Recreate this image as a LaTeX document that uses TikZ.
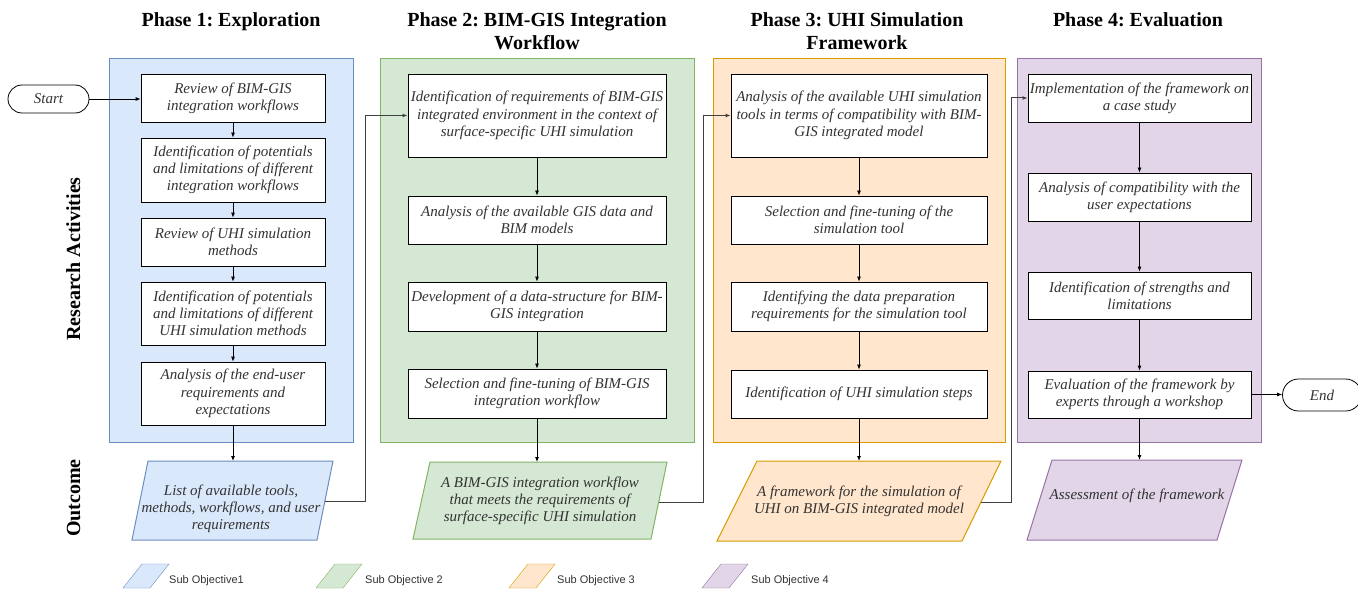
\documentclass[tikz,border=0pt]{standalone}
\usepackage{fontspec}
\setmainfont{Liberation Serif}
\setsansfont{Liberation Sans}
\usetikzlibrary{arrows.meta}
\definecolor{bfill}{HTML}{DAE8FC}\definecolor{bdraw}{HTML}{6C8EBF}
\definecolor{gfill}{HTML}{D5E8D4}\definecolor{gdraw}{HTML}{82B366}
\definecolor{ofill}{HTML}{FFE6CC}\definecolor{odraw}{HTML}{D79B00}
\definecolor{pfill}{HTML}{E1D5E7}\definecolor{pdraw}{HTML}{9673A6}
\definecolor{txt}{HTML}{333333}
\definecolor{lnk}{HTML}{404040}
\frenchspacing
\begin{document}
\begin{tikzpicture}[x=1pt,y=-1pt,
  boxtext/.style={align=center, font=\itshape\fontsize{15}{17.3}\selectfont, text=txt, inner sep=0pt},
  box/.style={boxtext, draw=black, fill=white, line width=0.8pt},
  term/.style={boxtext, draw=black, fill=white, line width=0.8pt},
  title/.style={font=\bfseries\fontsize{20}{23}\selectfont, anchor=base, inner sep=0pt},
  side/.style={font=\bfseries\fontsize{20}{23}\selectfont, anchor=base, rotate=90, inner sep=0pt},
  legtext/.style={font=\sffamily\fontsize{11}{13}\selectfont, text=txt, anchor=west, inner sep=0pt},
  arr/.style={-{Latex[length=5pt,width=4pt]}, line width=0.8pt, black},
  link/.style={-{Latex[length=5pt,width=4pt]}, line width=1pt, lnk},
  cont/.style={line width=1pt}]
\useasboundingbox (0,0) rectangle (1358,591);

% titles
\node[title] (t1) at (231,27) {Phase 1: Exploration};
\node[title] (t2a) at (537,27) {Phase 2: BIM-GIS Integration};
\node[title] (t2b) at (537,50) {Workflow};
\node[title] (t3a) at (857,27) {Phase 3: UHI Simulation};
\node[title] (t3b) at (857,50) {Framework};
\node[title] (t4) at (1138,27) {Phase 4: Evaluation};
\node[side] (ra) at (80,259) {Research Activities};
\node[side] (oc) at (80,498) {Outcome};

% containers
\draw[cont, draw=bdraw, fill=bfill] (109.5,58.5) rectangle (353.5,442.5);
\draw[cont, draw=gdraw, fill=gfill] (380.5,58.5) rectangle (694.5,442.5);
\draw[cont, draw=odraw, fill=ofill] (713.5,58.5) rectangle (1005.5,442.5);
\draw[cont, draw=pdraw, fill=pfill] (1017.5,58.5) rectangle (1261.5,442.5);

% start / end
\node[term, minimum width=81pt, minimum height=28pt, rounded corners=14pt] (start) at (48.5,99) {Start};
\node[term, minimum width=79pt, minimum height=32pt, rounded corners=16pt] (end) at (1322,395) {End};

% phase 1
\node[box, minimum width=184pt, minimum height=48pt] (a1) at (233,98) {Review of BIM-GIS\\integration workflows};
\node[box, minimum width=184pt, minimum height=64pt] (a2) at (233,170) {Identification of potentials\\and limitations of different\\integration workflows};
\node[box, minimum width=184pt, minimum height=48pt] (a3) at (233,242) {Review of UHI simulation\\methods};
\node[box, minimum width=184pt, minimum height=63pt] (a4) at (233,313.5) {Identification of potentials\\and limitations of different\\UHI simulation methods};
\node[box, minimum width=184pt, minimum height=63pt] (a5) at (233,393.5) {Analysis of the end-user\\requirements and\\expectations};

% phase 2
\node[box, minimum width=258pt, minimum height=83pt] (b1) at (537,115.5) {Identification of requirements of BIM-GIS\\integrated environment in the context of\\surface-specific UHI simulation};
\node[box, minimum width=258pt, minimum height=48pt] (b2) at (537,220) {Analysis of the available GIS data and\\BIM models};
\node[box, minimum width=258pt, minimum height=49pt] (b3) at (537,306.5) {Development of a data-structure for BIM-\\GIS integration};
\node[box, minimum width=258pt, minimum height=49pt] (b4) at (537,393.5) {Selection and fine-tuning of BIM-GIS\\integration workflow};

% phase 3
\node[box, minimum width=256pt, minimum height=83pt] (c1) at (859,115.5) {Analysis of the available UHI simulation\\tools in terms of compatibility with BIM-\\GIS integrated model};
\node[box, minimum width=256pt, minimum height=48pt] (c2) at (859,220) {Selection and fine-tuning of the\\simulation tool};
\node[box, minimum width=256pt, minimum height=49pt] (c3) at (859,306.5) {Identifying the data preparation\\requirements for the simulation tool};
\node[box, minimum width=256pt, minimum height=48pt] (c4) at (859,394) {Identification of UHI simulation steps};

% phase 4
\node[box, minimum width=223pt, minimum height=48pt] (d1) at (1139.5,98) {Implementation of the framework on\\a case study};
\node[box, minimum width=223pt, minimum height=48pt] (d2) at (1139.5,197) {Analysis of compatibility with the\\user expectations};
\node[box, minimum width=223pt, minimum height=47pt] (d3) at (1139.5,295.5) {Identification of strengths and\\limitations};
\node[box, minimum width=223pt, minimum height=47pt] (d4) at (1139.5,394.5) {Evaluation of the framework by\\experts through a workshop};

% outcomes
\draw[cont, draw=bdraw, fill=bfill] (148,461) -- (333,461) -- (317,540) -- (132,540) -- cycle;
\draw[cont, draw=gdraw, fill=gfill] (430,462) -- (667,462) -- (651,539) -- (413,539) -- cycle;
\draw[cont, draw=odraw, fill=ofill] (757,461) -- (1001,461) -- (962,541) -- (717,541) -- cycle;
\draw[cont, draw=pdraw, fill=pfill] (1052,460) -- (1242,460) -- (1217,540) -- (1027,540) -- cycle;
\node[boxtext] (o1) at (231,509) {List of available tools,\\methods, workflows, and user\\requirements};
\node[boxtext] (o2) at (540,501) {A BIM-GIS integration workflow\\that meets the requirements of\\surface-specific UHI simulation};
\node[boxtext] (o3) at (859,501) {A framework for the simulation of\\UHI on BIM-GIS integrated model};
\node[boxtext] (o4) at (1137,496) {Assessment of the framework};
\coordinate (o1n) at (233,461);
\coordinate (o2n) at (537,462);
\coordinate (o3n) at (859,461);
\coordinate (o4n) at (1139.5,460);
\coordinate (o1e) at (325,501);
\coordinate (o2e) at (659,502);
\coordinate (o3e) at (981,502);

% connectors
\draw[arr] (start.east) -- (start.east -| a1.west);
\draw[arr] (a1) -- (a2);
\draw[arr] (a2) -- (a3);
\draw[arr] (a3) -- (a4);
\draw[arr] (a4) -- (a5);
\draw[arr] (a5) -- (o1n);
\draw[arr] (b1) -- (b2);
\draw[arr] (b2) -- (b3);
\draw[arr] (b3) -- (b4);
\draw[arr] (b4) -- (o2n);
\draw[arr] (c1) -- (c2);
\draw[arr] (c2) -- (c3);
\draw[arr] (c3) -- (c4);
\draw[arr] (c4) -- (o3n);
\draw[arr] (d1) -- (d2);
\draw[arr] (d2) -- (d3);
\draw[arr] (d3) -- (d4);
\draw[arr] (d4) -- (o4n);
\draw[arr] (d4.east) -- (d4.east -| end.west);
\draw[link] (o1e) -- (365,501) |- (b1.west);
\draw[link] (o2e) -- (703,502) |- (c1.west);
\draw[link] (o3e) -- (1011,502) |- (d1.west);

% legend
\draw[draw=bdraw, fill=bfill] (142,564) -- (169,564) -- (150,588) -- (123,588) -- cycle;
\draw[draw=gdraw, fill=gfill] (335,564) -- (362,564) -- (343,588) -- (316,588) -- cycle;
\draw[draw=odraw, fill=ofill] (528,564) -- (555,564) -- (536,588) -- (509,588) -- cycle;
\draw[draw=pdraw, fill=pfill] (721,564) -- (748,564) -- (729,588) -- (702,588) -- cycle;
\node[legtext] (l1) at (169,581) {Sub Objective1};
\node[legtext] (l2) at (365,581) {Sub Objective 2};
\node[legtext] (l3) at (557,581) {Sub Objective 3};
\node[legtext] (l4) at (751,581) {Sub Objective 4};
\end{tikzpicture}
\end{document}
